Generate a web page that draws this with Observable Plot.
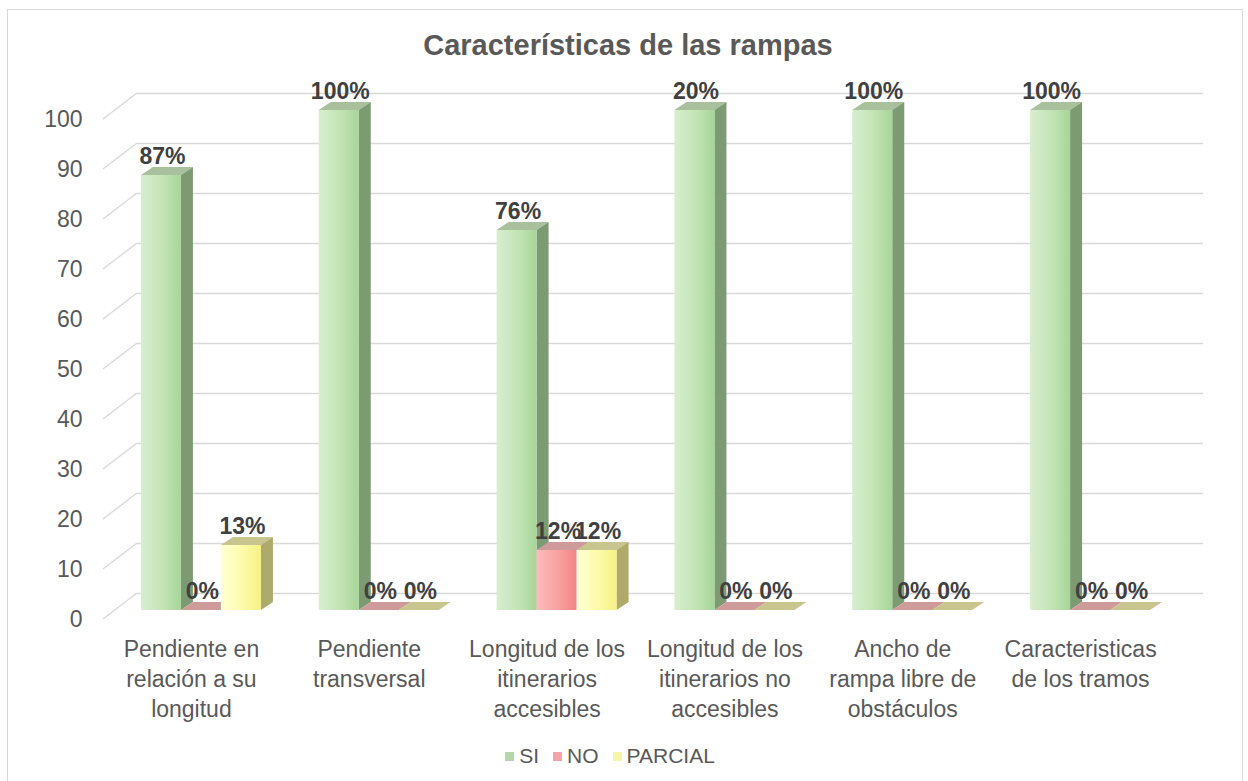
<!DOCTYPE html>
<html>
<head>
<meta charset="utf-8">
<script src="https://cdn.jsdelivr.net/npm/d3@7"></script>
<script src="https://cdn.jsdelivr.net/npm/@observablehq/plot@0.6"></script>
<style>
  html, body { margin: 0; padding: 0; background: #ffffff; }
  body { font-family: "Liberation Sans", Arial, sans-serif; }
  #wrap { position: relative; width: 1248px; height: 781px; overflow: hidden; background: #fff; }
  #frame { position: absolute; left: 7px; top: 9px; width: 1236px; height: 800px; border: 1px solid #d9d9d9; box-sizing: border-box; pointer-events: none; }
  #title { height: 70px; box-sizing: border-box; padding-top: 28px; padding-left: 8px; text-align: center; font-size: 29px; line-height: 34px; font-weight: bold; color: #595959; }
  #chart svg { display: block; }
  #legend { height: 51px; box-sizing: border-box; padding-top: 1px; padding-right: 28px; display: flex; justify-content: center; align-items: center; gap: 14px; font-size: 21px; line-height: 24px; color: #595959; }
  .item { display: flex; align-items: center; gap: 5px; }
  .sw { width: 9px; height: 9px; display: inline-block; }
</style>
</head>
<body>
<div id="wrap">
  <div id="frame"></div>
  <div id="title">Características de las rampas</div>
  <div id="chart"></div>
  <div id="legend"></div>
</div>
<script>
// ---- data ----
const categories = [
  "Pendiente en relación a su longitud",
  "Pendiente transversal",
  "Longitud de los itinerarios accesibles",
  "Longitud de los itinerarios no accesibles",
  "Ancho de rampa libre de obstáculos",
  "Caracteristicas de los tramos"
];
const tickLabels = [
  "Pendiente en\nrelación a su\nlongitud",
  "Pendiente\ntransversal",
  "Longitud de los\nitinerarios\naccesibles",
  "Longitud de los\nitinerarios no\naccesibles",
  "Ancho de\nrampa libre de\nobstáculos",
  "Caracteristicas\nde los tramos"
];
const seriesNames = ["SI", "NO", "PARCIAL"];
const siValues = [87, 100, 76, 100, 100, 100];
const noValues = [0, 0, 12, 0, 0, 0];
const parcialValues = [13, 0, 12, 0, 0, 0];
const siLabels = ["87%", "100%", "76%", "20%", "100%", "100%"];
const noLabels = ["0%", "0%", "12%", "0%", "0%", "0%"];
const parcialLabels = ["13%", "0%", "12%", "0%", "0%", "0%"];
const yTicks = [0, 10, 20, 30, 40, 50, 60, 70, 80, 90, 100];

// ---- styling ----
const offsets = {SI: -40, NO: 0, PARCIAL: 40};
const frontStops = {
  SI: ["#d8eecf", "#c2e4b5", "#a7d598"],
  NO: ["#fdbcbc", "#f9a0a0", "#f38484"],
  PARCIAL: ["#ffffd6", "#fdfba8", "#f6f184"]
};
const topColor = {SI: "#a9c09d", NO: "#cf9a9a", PARCIAL: "#c9c58e"};
const sideColor = {SI: "#7d9b73", NO: "#b97d7d", PARCIAL: "#aeaa6a"};
const legendColor = {SI: "#b5d6aa", NO: "#f5a3ab", PARCIAL: "#f6f6a6"};
const depthX = 12, depthY = 8;

const valuesBySeries = {SI: siValues, NO: noValues, PARCIAL: parcialValues};
const labelsBySeries = {SI: siLabels, NO: noLabels, PARCIAL: parcialLabels};
const rows = [];
categories.forEach((c, i) => {
  seriesNames.forEach(s => rows.push({category: c, series: s, value: valuesBySeries[s][i], label: labelsBySeries[s][i]}));
});

function gradientDefs() {
  const defs = d3.create("svg:defs");
  for (const s of seriesNames) {
    const g = defs.append("linearGradient").attr("id", "grad-" + s)
      .attr("x1", "0").attr("y1", "0").attr("x2", "1").attr("y2", "0");
    const st = frontStops[s];
    g.append("stop").attr("offset", "0%").attr("stop-color", st[0]);
    g.append("stop").attr("offset", "55%").attr("stop-color", st[1]);
    g.append("stop").attr("offset", "100%").attr("stop-color", st[2]);
  }
  return defs.node();
}

function floorDiagonals(index, scales) {
  const y = scales.y;
  const g = d3.create("svg:g").attr("stroke", "#d9d9d9").attr("stroke-width", 1.3);
  for (const t of yTicks) {
    g.append("line").attr("x1", 103).attr("y1", y(t) + 9).attr("x2", 137).attr("y2", y(t) - 17);
  }
  return g.node();
}

function barFaces(index, scales) {
  const {x, y} = scales;
  const bw = x.bandwidth ? x.bandwidth() : 40;
  const g = d3.create("svg:g");
  for (const c of categories) {
    for (const s of seriesNames) {
      const r = rows.find(d => d.category === c && d.series === s);
      const x0 = x(c) + offsets[s], x1 = x0 + bw;
      const yt = y(r.value), yb = y(0);
      g.append("path")
        .attr("d", `M${x0},${yt}L${x0 + depthX},${yt - depthY}L${x1 + depthX},${yt - depthY}L${x1},${yt}Z`)
        .attr("fill", topColor[s]);
      g.append("path")
        .attr("d", `M${x1},${yt}L${x1 + depthX},${yt - depthY}L${x1 + depthX},${yb - depthY}L${x1},${yb}Z`)
        .attr("fill", sideColor[s]);
    }
  }
  return g.node();
}

const marks = [
  gradientDefs,
  Plot.ruleY(yTicks, {y: d => d, dy: -17, stroke: "#d9d9d9", strokeWidth: 1.3}),
  floorDiagonals,
  Plot.axisY(yTicks, {tickSize: 0, tickPadding: 55, dy: 9, fontSize: 23, color: "#595959", label: null}),
  barFaces
];
for (const s of seriesNames) {
  marks.push(Plot.barY(rows.filter(d => d.series === s), {
    x: "category", y1: 0, y2: "value", dx: offsets[s], fill: "url(#grad-" + s + ")"
  }));
}
for (const s of seriesNames) {
  marks.push(Plot.text(rows.filter(d => d.series === s), {
    x: "category", y: "value", text: "label", dx: offsets[s] + 1, dy: -19,
    fontWeight: "bold", fontSize: 23, fill: "#404040"
  }));
}
marks.push(Plot.text(categories, {
  x: d => d, y: () => 0, text: (d, i) => tickLabels[i], dx: -10, dy: 25,
  lineAnchor: "top", lineHeight: 1.3, fontSize: 23, fill: "#595959"
}));

const chart = Plot.plot({
  width: 1248,
  height: 660,
  marginLeft: 137,
  marginRight: 45,
  marginTop: 40,
  marginBottom: 120,
  style: {fontFamily: "'Liberation Sans', Arial, sans-serif", fontSize: "23px", background: "transparent", overflow: "visible"},
  x: {type: "band", domain: categories, range: [112, 1179], paddingInner: 0.775, paddingOuter: 0.3875, round: false, axis: null},
  y: {domain: [0, 100], axis: null},
  marks
});
document.getElementById("chart").appendChild(chart);

const legend = document.getElementById("legend");
for (const s of seriesNames) {
  const item = document.createElement("span");
  item.className = "item";
  const sw = document.createElement("span");
  sw.className = "sw";
  sw.style.background = legendColor[s];
  const tx = document.createElement("span");
  tx.textContent = s;
  item.appendChild(sw);
  item.appendChild(tx);
  legend.appendChild(item);
}
</script>
</body>
</html>
